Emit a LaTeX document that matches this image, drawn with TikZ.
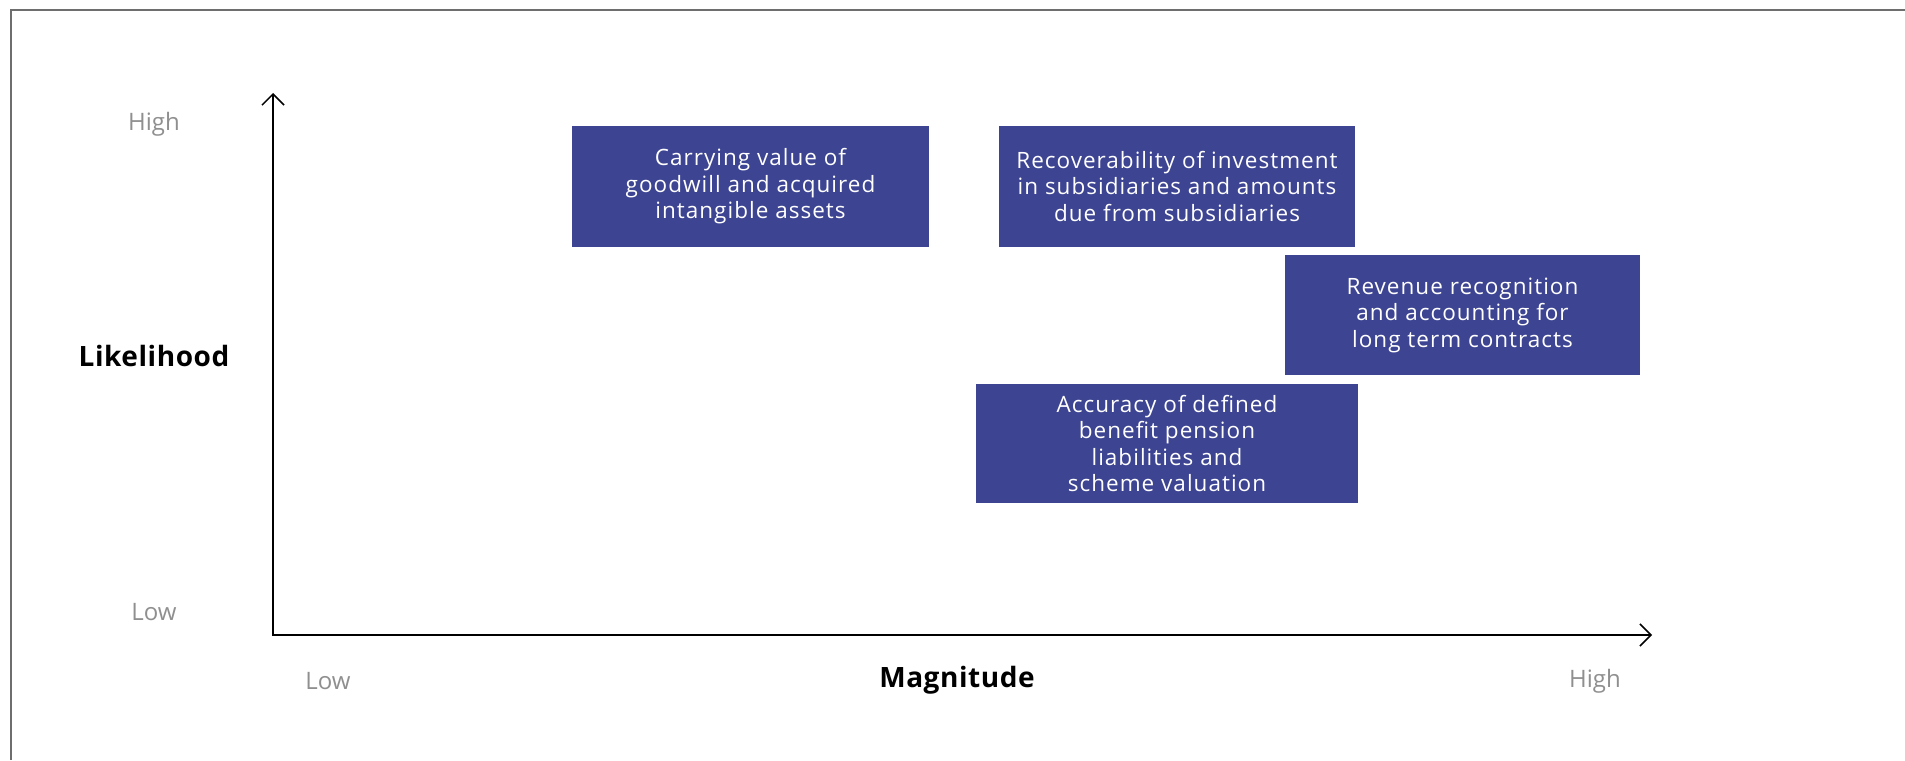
\documentclass[tikz,border=0pt]{standalone}
\usepackage{fontspec}
\setmainfont{Open Sans}
\newfontfamily\boxfont[LetterSpace=4.5]{Open Sans}
\newfontfamily\labelfont[LetterSpace=2]{Open Sans}
\usetikzlibrary{arrows.meta}
\definecolor{riskblue}{HTML}{3D4492}
\definecolor{scalegrey}{HTML}{8F8F8F}
\definecolor{framegrey}{HTML}{6E6E6E}

\begin{document}
\begin{tikzpicture}[x=1pt,y=-1pt,
  riskbox/.style={fill=riskblue, text=white, inner sep=0pt, align=center,
    font=\boxfont\fontsize{22.5}{26.5}\selectfont},
  scalelabel/.style={text=scalegrey, inner sep=0pt, font=\fontsize{24}{28}\selectfont},
  axislabel/.style={text=black, inner sep=0pt, font=\labelfont\fontsize{28}{32}\selectfont\bfseries},
  axisline/.style={line width=1.5pt, line join=miter,
    arrows={Straight Barb[length=11pt,width=22pt,line width=1.5pt]-Straight Barb[length=11pt,width=22pt,line width=1.5pt]}}
]
\useasboundingbox (0,0) rectangle (1905,760);
\fill[white] (0,0) rectangle (1905,760);

% outer frame (left and top edges)
\draw[framegrey, line width=2pt] (11,760) -- (11,10) -- (1905,10);

% axes
\coordinate (origin) at (273,635);
\coordinate (ytip) at (273,93);
\coordinate (xtip) at (1652,635);
\draw[axisline] (ytip) -- (origin) -- (xtip);

% scale and axis labels
\node[scalelabel] (yhigh) at (154,124) {High};
\node[scalelabel] (ylow) at (154,612) {Low};
\node[axislabel] (likelihood) at (154,356) {Likelihood};
\node[scalelabel] (xlow) at (328,681) {Low};
\node[axislabel] (magnitude) at (957,680) {Magnitude};
\node[scalelabel] (xhigh) at (1595,681) {High};

% risk boxes
\node[riskbox, minimum width=357pt, minimum height=121pt] (goodwill) at (750.5,186.5)
  {Carrying value of\\goodwill and acquired\\intangible assets};
\node[riskbox, minimum width=356pt, minimum height=121pt] (investment) at (1177,186.5)
  {Recoverability of investment\\in subsidiaries and amounts\\due from subsidiaries};
\node[riskbox, minimum width=355pt, minimum height=120pt] (revenue) at (1462.5,315)
  {Revenue recognition\\and accounting for\\long term contracts};
\node[riskbox, minimum width=382pt, minimum height=119pt] (pension) at (1167,443.5)
  {Accuracy of defined\\benefit pension\\liabilities and\\scheme valuation};
\end{tikzpicture}
\end{document}
